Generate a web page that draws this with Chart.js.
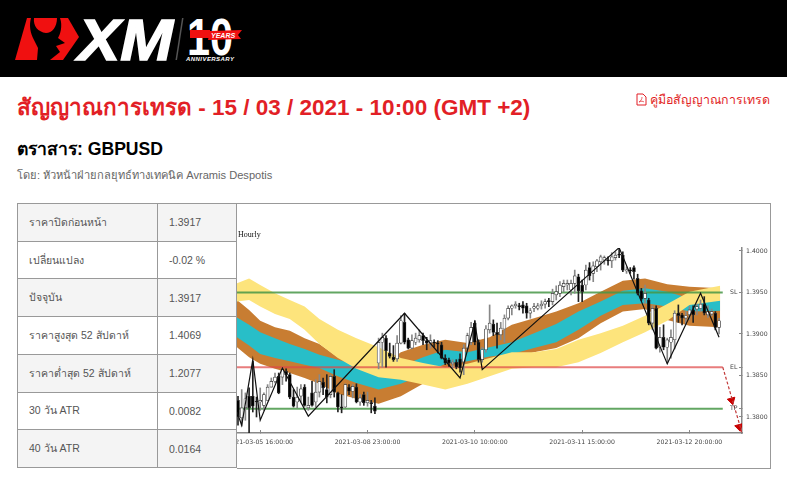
<!DOCTYPE html>
<html lang="th">
<head>
    <meta charset="UTF-8">
    <title>สัญญาณการเทรด GBPUSD</title>
    <script src="https://cdn.jsdelivr.net/npm/chart.js"></script>
    <style>
        html, body { margin: 0; padding: 0; background: #fff; overflow: hidden; }
        body { width: 787px; height: 480px; position: relative; font-family: "Liberation Sans", Arial, sans-serif; }
        .header { position: absolute; left: 0; top: 0; width: 787px; height: 77px; background: #000; }
        .title { position: absolute; left: 17px; top: 93px; font-size: 22.5px; line-height: 30px; font-weight: bold; color: #e21f26; white-space: nowrap; }
        .guide { position: absolute; right: 17px; top: 91px; font-size: 12.4px; line-height: 18px; color: #e21f26; white-space: nowrap; }
        .symbol { position: absolute; left: 17px; top: 138px; font-size: 17.6px; line-height: 22px; font-weight: bold; color: #000; white-space: nowrap; }
        .author { position: absolute; left: 17px; top: 167px; font-size: 11.1px; line-height: 16px; color: #666; white-space: nowrap; }
        table { position: absolute; left: 17px; top: 203px; width: 220px; height: 265px; border-collapse: collapse; font-size: 10.5px; color: #555; }
        td { border: 1px solid #999; padding: 0 0 0 11px; }
        td:first-child { width: 128px; }
        tr:nth-child(odd) td { background: #f4f4f4; }
        .chart-box { position: absolute; left: 237px; top: 203px; width: 533px; height: 264px; border: 1px solid #999; border-left: 0; }
        canvas { display: block; }
    </style>
</head>
<body>
    <div class="header">
        <svg width="260" height="77" viewBox="0 0 260 77">
            <polygon points="15,60 27,18 68,18 79,37 63,60" fill="#f01010"/>
            <path d="M31,18 L34,18 C33,26 38,32 46,33 C52,33 57,27 57,18 L60,18 C63,26 60,35 58,38 L65,43 L56,46 L60,52 L50,60 L37,60 L38,48 L34,40 C30,33 29,25 31,18 Z" fill="#000"/>
            <text x="78" y="60" font-family="Liberation Sans" font-size="58" font-weight="bold" font-style="italic" fill="#fff" stroke="#fff" stroke-width="1.5" textLength="95" lengthAdjust="spacingAndGlyphs">XM</text>
            <polygon points="182,18 183.5,18 177,60 175.5,60" fill="#555"/>
            <text x="187" y="55" font-family="Liberation Sans" font-size="51" font-weight="bold" fill="#fff" textLength="46" lengthAdjust="spacingAndGlyphs">10</text>
            <polygon points="190,30 210,30 210,38 190,38" fill="#f01010"/>
            <polygon points="210,31 242,30 238,35 241,39 208,40" fill="#f01010"/>
            <text x="211" y="38" font-family="Liberation Sans" font-size="7" font-weight="bold" font-style="italic" fill="#fff">YEARS</text>
            <text x="186" y="61" font-family="Liberation Sans" font-size="6" font-weight="bold" font-style="italic" fill="#fff" textLength="48">ANNIVERSARY</text>
        </svg>
    </div>
    <div class="title">สัญญาณการเทรด - 15 / 03 / 2021 - 10:00 (GMT +2)</div>
    <div class="guide"><svg width="11" height="13" viewBox="0 0 11 13" style="vertical-align:-2px"><path d="M1 1h6l3 3v8H1z" fill="none" stroke="#e21f26"/><path d="M3 9c2-1 3-3 3-5M3 9c2-1 4-1 5 0" fill="none" stroke="#e21f26" stroke-width=".7"/></svg> คู่มือสัญญาณการเทรด</div>
    <div class="symbol">ตราสาร: GBPUSD</div>
    <div class="author">โดย: หัวหน้าฝ่ายกลยุทธ์ทางเทคนิค Avramis Despotis</div>

    <table>
        <tr><td>ราคาปิดก่อนหน้า</td><td>1.3917</td></tr>
        <tr><td>เปลี่ยนแปลง</td><td>-0.02 %</td></tr>
        <tr><td>ปัจจุบัน</td><td>1.3917</td></tr>
        <tr><td>ราคาสูงสุด 52 สัปดาห์</td><td>1.4069</td></tr>
        <tr><td>ราคาต่ำสุด 52 สัปดาห์</td><td>1.2077</td></tr>
        <tr><td>30 วัน ATR</td><td>0.0082</td></tr>
        <tr><td>40 วัน ATR</td><td>0.0164</td></tr>
    </table>

    <div class="chart-box"><canvas id="signal-chart" width="533" height="264"></canvas></div>

    <script>
        // hourly candles
        const opens = [1.3820,1.3799,1.3811,1.3825,1.3825,1.3819,1.3818,1.3814,1.3820,1.3836,
            1.3843,1.3849,1.3848,1.3855,1.3851,1.3824,1.3818,1.3825,1.3836,1.3811,
            1.3829,1.3818,1.3830,1.3842,1.3833,1.3827,1.3849,1.3829,1.3812,1.3812,
            1.3836,1.3831,1.3836,1.3818,1.3827,1.3817,1.3817,1.3813,1.3865,1.3890,
            1.3895,1.3877,1.3872,1.3870,1.3889,1.3914,1.3893,1.3883,1.3890,1.3893,
            1.3898,1.3892,1.3889,1.3890,1.3889,1.3887,1.3871,1.3869,1.3864,1.3866,
            1.3870,1.3866,1.3883,1.3890,1.3913,1.3890,1.3869,1.3881,1.3905,1.3912,
            1.3902,1.3899,1.3906,1.3919,1.3931,1.3934,1.3934,1.3935,1.3934,1.3925,
            1.3931,1.3931,1.3934,1.3936,1.3940,1.3939,1.3947,1.3949,1.3957,1.3959,
            1.3953,1.3961,1.3969,1.3959,1.3959,1.3980,1.3973,1.3981,1.3987,1.3989,
            1.3989,1.3988,1.3992,1.3996,1.3995,1.3976,1.3977,1.3980,1.3967,1.3952,
            1.3943,1.3941,1.3913,1.3931,1.3884,1.3896,1.3884,1.3890,1.3893,1.3925,
            1.3923,1.3919,1.3923,1.3929,1.3930,1.3931,1.3936,1.3923,1.3924,1.3925,1.3908];
        const closes = [1.3800,1.3811,1.3822,1.3811,1.3813,1.3818,1.3820,1.3827,1.3836,1.3843,
            1.3848,1.3829,1.3857,1.3851,1.3824,1.3813,1.3824,1.3834,1.3814,1.3814,
            1.3814,1.3830,1.3843,1.3835,1.3824,1.3849,1.3830,1.3812,1.3811,1.3839,
            1.3831,1.3837,1.3818,1.3823,1.3817,1.3820,1.3816,1.3807,1.3890,1.3896,
            1.3880,1.3873,1.3869,1.3889,1.3916,1.3890,1.3883,1.3892,1.3895,1.3898,
            1.3892,1.3889,1.3892,1.3889,1.3888,1.3871,1.3865,1.3865,1.3866,1.3860,
            1.3859,1.3883,1.3898,1.3908,1.3890,1.3869,1.3881,1.3906,1.3913,1.3902,
            1.3899,1.3907,1.3919,1.3931,1.3934,1.3936,1.3933,1.3931,1.3925,1.3928,
            1.3933,1.3934,1.3936,1.3939,1.3939,1.3949,1.3951,1.3959,1.3961,1.3961,
            1.3961,1.3970,1.3952,1.3951,1.3977,1.3970,1.3982,1.3988,1.3993,1.3992,
            1.3988,1.3993,1.3995,1.3995,1.3977,1.3977,1.3976,1.3975,1.3949,1.3942,
            1.3949,1.3913,1.3931,1.3883,1.3896,1.3884,1.3893,1.3896,1.3925,1.3922,
            1.3919,1.3922,1.3929,1.3923,1.3933,1.3936,1.3925,1.3927,1.3927,1.3908,1.3916];
        const highs = [1.3825,1.3833,1.3829,1.3835,1.3867,1.3824,1.3835,1.3829,1.3839,1.3847,
            1.3853,1.3853,1.3859,1.3858,1.3853,1.3833,1.3836,1.3839,1.3839,1.3824,
            1.3843,1.3845,1.3851,1.3847,1.3851,1.3851,1.3857,1.3830,1.3827,1.3840,
            1.3839,1.3839,1.3840,1.3827,1.3830,1.3830,1.3820,1.3823,1.3895,1.3901,
            1.3898,1.3889,1.3886,1.3898,1.3922,1.3925,1.3895,1.3899,1.3901,1.3905,
            1.3901,1.3896,1.3899,1.3893,1.3892,1.3890,1.3875,1.3871,1.3869,1.3869,
            1.3876,1.3887,1.3901,1.3914,1.3916,1.3893,1.3884,1.3910,1.3935,1.3917,
            1.3913,1.3914,1.3923,1.3934,1.3935,1.3939,1.3937,1.3939,1.3937,1.3931,
            1.3937,1.3937,1.3940,1.3942,1.3943,1.3954,1.3958,1.3963,1.3965,1.3965,
            1.3965,1.3977,1.3972,1.3965,1.3983,1.3986,1.3987,1.3990,1.3995,1.3994,
            1.3993,1.3998,1.3999,1.4004,1.3999,1.3981,1.3980,1.3982,1.3972,1.3955,
            1.3959,1.3943,1.3934,1.3934,1.3908,1.3911,1.3895,1.3905,1.3928,1.3935,
            1.3925,1.3927,1.3933,1.3934,1.3936,1.3941,1.3945,1.3934,1.3930,1.3927,1.3919];
        const lows = [1.3790,1.3789,1.3796,1.3781,1.3806,1.3800,1.3808,1.3808,1.3823,1.3836,
            1.3841,1.3828,1.3839,1.3843,1.3822,1.3812,1.3811,1.3818,1.3813,1.3808,
            1.3813,1.3812,1.3824,1.3827,1.3817,1.3823,1.3824,1.3806,1.3805,1.3811,
            1.3827,1.3823,1.3817,1.3814,1.3814,1.3813,1.3805,1.3804,1.3858,1.3860,
            1.3860,1.3871,1.3867,1.3867,1.3888,1.3888,1.3882,1.3882,1.3887,1.3890,
            1.3887,1.3881,1.3883,1.3884,1.3877,1.3870,1.3863,1.3861,1.3859,1.3858,
            1.3854,1.3851,1.3878,1.3887,1.3887,1.3866,1.3866,1.3878,1.3901,1.3898,
            1.3883,1.3893,1.3890,1.3917,1.3923,1.3931,1.3929,1.3925,1.3919,1.3919,
            1.3927,1.3929,1.3930,1.3931,1.3933,1.3935,1.3941,1.3945,1.3951,1.3953,
            1.3947,1.3949,1.3939,1.3939,1.3953,1.3965,1.3963,1.3975,1.3977,1.3984,
            1.3983,1.3980,1.3989,1.3992,1.3975,1.3973,1.3973,1.3966,1.3947,1.3940,
            1.3937,1.3911,1.3905,1.3882,1.3878,1.3881,1.3865,1.3871,1.3882,1.3914,
            1.3911,1.3911,1.3917,1.3914,1.3923,1.3927,1.3923,1.3920,1.3922,1.3905,1.3900];

        // ribbon edges, sampled at these bar numbers
        const bandIndex = [-0.27,3,6,10,14,18,22,27,32,38,44,50,56,62,68,74,80,86,92,98,104,110,116,122,130.3];
        const yellowTop = [1.3961,1.3967,1.3959,1.3949,1.3941,1.3933,1.3918,1.3905,1.3895,1.3884,1.3871,1.3865,1.3860,1.3864,1.3871,1.3878,1.3878,1.3882,1.3893,1.3901,1.3910,1.3922,1.3936,1.3951,1.3958];
        const yellowBottom = [1.3939,1.3941,1.3933,1.3924,1.3918,1.3905,1.3888,1.3871,1.3858,1.3848,1.3845,1.3839,1.3833,1.3840,1.3849,1.3858,1.3860,1.3860,1.3866,1.3877,1.3890,1.3902,1.3916,1.3935,1.3940];
        const brownTop = [1.3941,1.3929,1.3916,1.3908,1.3904,1.3895,1.3888,1.3872,1.3866,1.3857,1.3878,1.3887,1.3893,1.3889,1.3896,1.3911,1.3919,1.3927,1.3937,1.3951,1.3964,1.3967,1.3960,1.3957,1.3955];
        const brownBottom = [1.3884,1.3872,1.3864,1.3858,1.3853,1.3847,1.3840,1.3828,1.3822,1.3816,1.3825,1.3840,1.3854,1.3859,1.3866,1.3871,1.3878,1.3883,1.3895,1.3913,1.3927,1.3930,1.3917,1.3910,1.3908];
        const tealTop = [1.3920,1.3911,1.3902,1.3895,1.3888,1.3882,1.3875,1.3869,1.3863,1.3855,1.3861,1.3872,1.3881,1.3878,1.3884,1.3890,1.3901,1.3912,1.3927,1.3939,1.3952,1.3955,1.3951,1.3943,1.3940];
        const tealBottom = [1.3896,1.3886,1.3876,1.3871,1.3867,1.3863,1.3859,1.3849,1.3841,1.3833,1.3840,1.3851,1.3864,1.3867,1.3873,1.3876,1.3883,1.3890,1.3905,1.3922,1.3935,1.3937,1.3933,1.3927,1.3928];

        // zigzag pivots
        const zigzagIndex = [-0.27,1,4,6,12,19,45,60,64,66,103,116,125,130];
        const zigzagValues = [1.3806,1.3790,1.3869,1.3796,1.3859,1.3801,1.3925,1.3847,1.3914,1.3857,1.4004,1.3864,1.3949,1.3896];

        // trade levels and the arrow down to target
        const levelEndIndex = 131;
        const levelNames = ['SL', 'EL', 'TP'];
        const levelValues = [1.3950, 1.3860, 1.3810];
        const arrowIndex = [131, 136.2];
        const arrowValues = [1.3860, 1.3781];
        const arrowHeadIndex = [133.4, 135.4];
        const arrowHeadValues = [1.3820, 1.3788];

        // axes
        const xTickBars = [6, 35, 64, 93, 122];
        const xTickLabels = ['2021-03-05 16:00:00', '2021-03-08 23:00:00', '2021-03-10 10:00:00', '2021-03-11 15:00:00', '2021-03-12 20:00:00'];
        const yTickValues = [1.3800, 1.3850, 1.3900, 1.3950, 1.4000];

        function pairs(xs, ys) {
            return xs.map((x, i) => ({ x: x, y: ys[i] }));
        }

        function band(values, color, order) {
            return {
                type: 'line',
                data: pairs(bandIndex, values),
                borderWidth: 0,
                pointRadius: 0,
                tension: 0,
                fill: color ? '+1' : false,
                backgroundColor: color || 'transparent',
                borderColor: 'transparent',
                order: order
            };
        }

        function level(value, color) {
            return {
                type: 'line',
                data: pairs([-0.27, levelEndIndex], [value, value]),
                borderColor: color,
                borderWidth: 2,
                pointRadius: 0,
                order: 5
            };
        }

        // SL / EL / TP tags and the timeframe note
        const chartNotes = {
            id: 'chartNotes',
            afterDraw(chart) {
                const ctx = chart.ctx;
                const y = chart.scales.y;
                ctx.save();
                ctx.fillStyle = '#444';
                ctx.font = '6.2px "DejaVu Sans"';
                ctx.textAlign = 'left';
                ctx.textBaseline = 'middle';
                levelNames.forEach((name, i) => {
                    ctx.fillText(name, chart.chartArea.right - 12, y.getPixelForValue(levelValues[i]));
                });
                ctx.fillStyle = '#111';
                ctx.font = '8px "Liberation Serif"';
                ctx.fillText('Hourly', 1, 31);
                ctx.restore();
            }
        };

        const candleColor = ctx => closes[ctx.dataIndex] >= opens[ctx.dataIndex] ? '#fff' : '#000';

        new Chart(document.getElementById('signal-chart'), {
            type: 'bar',
            data: {
                datasets: [
                    band(brownTop, '#c87d32', 9), band(brownBottom, null, 9),
                    band(tealTop, '#28bec8', 8), band(tealBottom, null, 8),
                    band(yellowTop, '#fde47c', 7), band(yellowBottom, null, 7),
                    level(levelValues[0], 'rgba(70,150,70,0.85)'),
                    level(levelValues[1], 'rgba(222,70,70,0.7)'),
                    level(levelValues[2], 'rgba(70,150,70,0.85)'),
                    {
                        // wicks
                        data: opens.map((o, i) => ({ x: i, y: [lows[i], highs[i]] })),
                        barThickness: 1,
                        grouped: false,
                        backgroundColor: ctx => closes[ctx.dataIndex] >= opens[ctx.dataIndex] ? '#888' : '#222',
                        order: 4
                    },
                    {
                        // bodies
                        data: opens.map((o, i) => ({ x: i, y: [o, closes[i]] })),
                        barThickness: 3,
                        minBarLength: 1,
                        grouped: false,
                        backgroundColor: candleColor,
                        borderColor: '#333',
                        borderWidth: 0.7,
                        borderSkipped: false,
                        order: 3
                    },
                    {
                        type: 'line',
                        data: pairs(zigzagIndex, zigzagValues),
                        borderColor: '#111',
                        borderWidth: 1.2,
                        pointRadius: 0,
                        order: 1
                    },
                    {
                        type: 'line',
                        data: pairs(arrowIndex, arrowValues),
                        borderColor: '#c23a3a',
                        borderWidth: 1.2,
                        borderDash: [3, 2],
                        pointRadius: 0,
                        order: 2
                    },
                    {
                        type: 'line',
                        data: pairs(arrowHeadIndex, arrowHeadValues),
                        showLine: false,
                        pointStyle: 'triangle',
                        pointRadius: 4.5,
                        pointRotation: 165,
                        pointBackgroundColor: '#c80000',
                        pointBorderColor: '#c80000',
                        order: 2
                    }
                ]
            },
            options: {
                responsive: false,
                animation: false,
                layout: { autoPadding: false, padding: { top: 44, left: 0, right: 0, bottom: 0 } },
                plugins: { legend: { display: false }, tooltip: { enabled: false } },
                scales: {
                    x: {
                        type: 'linear',
                        offset: false,
                        min: -0.27,
                        max: 136.2,
                        afterBuildTicks: axis => { axis.ticks = xTickBars.map(v => ({ value: v })); },
                        afterFit: axis => { axis.height = 35; axis.paddingLeft = 0; axis.paddingRight = 0; },
                        border: { color: '#888', width: 1.5 },
                        grid: { offset: false, drawOnChartArea: false, tickLength: -3, tickColor: '#888' },
                        ticks: {
                            autoSkip: false,
                            maxRotation: 0,
                            padding: 9,
                            color: '#444',
                            font: { family: 'DejaVu Sans', size: 6.2 },
                            callback: value => xTickLabels[xTickBars.indexOf(value)]
                        }
                    },
                    y: {
                        position: 'right',
                        min: 1.37807,
                        max: 1.40036,
                        afterBuildTicks: axis => {
                            const values = new Set(yTickValues.concat(levelValues));
                            axis.ticks = [...values].map(v => ({ value: v }));
                        },
                        afterFit: axis => { axis.width = 28; axis.paddingTop = 0; axis.paddingBottom = 0; },
                        border: { color: '#888', width: 1.5 },
                        grid: { drawOnChartArea: false, tickLength: -3, tickColor: '#888' },
                        ticks: {
                            autoSkip: false,
                            padding: 7,
                            color: '#444',
                            font: { family: 'DejaVu Sans', size: 6.2 },
                            callback: value => yTickValues.includes(value) ? value.toFixed(4) : ''
                        }
                    }
                }
            },
            plugins: [chartNotes]
        });
    </script>
</body>
</html>
